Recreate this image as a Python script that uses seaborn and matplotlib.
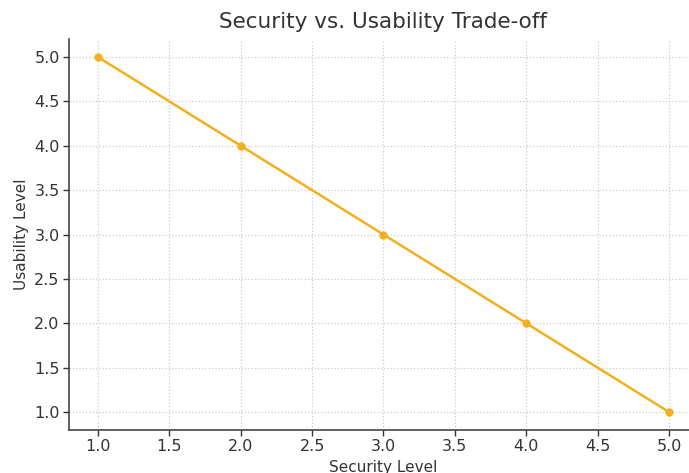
import pandas as pd
import matplotlib.pyplot as plt
import seaborn as sns

# security vs usability values
security_level = [1, 2, 3, 4, 5]
usability_level = [5, 4, 3, 2, 1]
x_ticks = [1.0, 1.5, 2.0, 2.5, 3.0, 3.5, 4.0, 4.5, 5.0]
y_ticks = [1.0, 1.5, 2.0, 2.5, 3.0, 3.5, 4.0, 4.5, 5.0]

df = pd.DataFrame({"Security": security_level, "Usability": usability_level})

sns.set_style("white")
plt.rcParams['font.family'] = ['DejaVu Sans']

fig = plt.figure(figsize=(6.89, 4.73), dpi=100)
ax = fig.add_axes([0.1007, 0.0914, 0.9117, 0.8256])

sns.lineplot(data=df, x="Security", y="Usability", ax=ax, color="#F2B01E",
             linewidth=1.8, marker="o", markersize=6, markeredgewidth=0)

ax.set_xlim(0.8, 5.2)
ax.set_ylim(0.8, 5.2)
ax.set_xticks(x_ticks)
ax.set_yticks(y_ticks)
ax.set_xticklabels([f"{t:.1f}" for t in x_ticks])
ax.set_yticklabels([f"{t:.1f}" for t in y_ticks])
ax.grid(True, linestyle=":", color="#cccccc", linewidth=0.9)

for s in ["top", "right"]:
    ax.spines[s].set_visible(False)
for s in ["left", "bottom"]:
    ax.spines[s].set_color("#444444")
    ax.spines[s].set_linewidth(1.2)

ax.tick_params(axis="both", labelsize=11.5, colors="#333333", length=4,
               width=1, bottom=True, left=True, direction="out", pad=3)
ax.set_xlabel("Security Level", fontsize=11, color="#333333", labelpad=4)
ax.set_ylabel("Usability Level", fontsize=11, color="#333333", labelpad=4)
ax.set_title("Security vs. Usability Trade-off", fontsize=15.5, color="#333333", pad=8)

fig.savefig("out.png", dpi=100)
